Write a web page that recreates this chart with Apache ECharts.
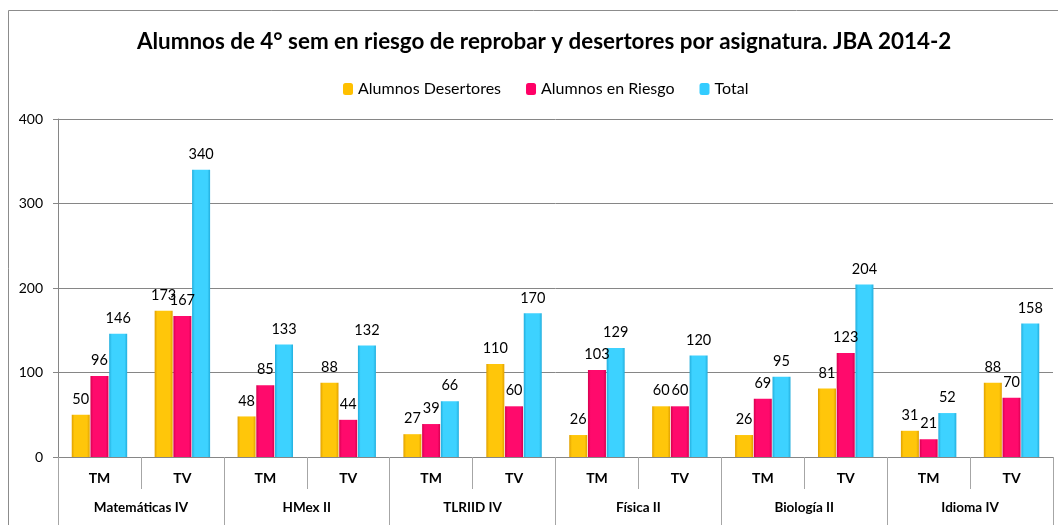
<!DOCTYPE html>
<html>
<head>
<meta charset="utf-8">
<script src="https://cdn.jsdelivr.net/npm/echarts@6/dist/echarts.min.js"></script>
<style>
  html, body { margin: 0; padding: 0; background: #fff; }
  #chart { width: 1058px; height: 525px; }
</style>
</head>
<body>
<div id="chart"></div>
<script>
// turnos por asignatura
const turnos = ['TM', 'TV', 'TM', 'TV', 'TM', 'TV', 'TM', 'TV', 'TM', 'TV', 'TM', 'TV'];
const asignaturas = ['Matemáticas IV', 'HMex II', 'TLRIID IV', 'Física II', 'Biología II', 'Idioma IV'];
const desertores = [50, 173, 48, 88, 27, 110, 26, 60, 26, 81, 31, 88];
const enRiesgo = [96, 167, 85, 44, 39, 60, 103, 60, 69, 123, 21, 70];
const total = [146, 340, 133, 132, 66, 170, 129, 120, 95, 204, 52, 158];
const yTicks = [0, 100, 200, 300, 400];

const font = 'Lato, "Open Sans", sans-serif';

function bevel(edge, mid) {
  return new echarts.graphic.LinearGradient(0, 0, 1, 0, [
    { offset: 0, color: edge },
    { offset: 0.15, color: mid },
    { offset: 0.85, color: mid },
    { offset: 1, color: edge }
  ]);
}

function serie(name, data, edge, mid) {
  return {
    name: name,
    type: 'bar',
    xAxisIndex: 0,
    data: data,
    barWidth: 18,
    barGap: '4%',
    itemStyle: { color: bevel(edge, mid) },
    label: {
      show: true,
      position: 'top',
      distance: 8,
      color: '#000',
      fontFamily: font,
      fontSize: 14.5
    }
  };
}

const chart = echarts.init(document.getElementById('chart'));
chart.setOption({
  animation: false,
  backgroundColor: '#fff',
  title: {
    text: 'Alumnos de 4° sem en riesgo de reprobar y desertores por asignatura. JBA 2014-2',
    left: 132,
    top: 26,
    textStyle: { fontFamily: font, fontSize: 22.4, fontWeight: 'bold', color: '#000' }
  },
  legend: {
    top: 76,
    left: 338,
    itemWidth: 10,
    itemHeight: 12,
    itemGap: 25,
    textStyle: { fontFamily: font, fontSize: 16, color: '#000' },
    data: [
      { name: 'Alumnos Desertores', itemStyle: { color: '#ffc000' } },
      { name: 'Alumnos en Riesgo', itemStyle: { color: '#ff0066' } },
      { name: 'Total', itemStyle: { color: '#33ccff' } }
    ]
  },
  graphic: [{
    type: 'rect',
    shape: { x: 8.5, y: 10.5, width: 1080, height: 600 },
    style: { fill: 'none', stroke: '#8c8c8c', lineWidth: 1 },
    silent: true
  }],
  grid: { left: 58, right: 5, top: 119, bottom: 68 },
  xAxis: [
    {
      type: 'category',
      data: turnos,
      axisLine: { lineStyle: { color: '#868686' } },
      axisTick: { show: true, interval: 0, length: 32, lineStyle: { color: '#a6a6a6' } },
      axisLabel: { interval: 0, margin: 14, fontFamily: font, fontSize: 14, fontWeight: 'bold', color: '#000' }
    },
    {
      type: 'category',
      position: 'bottom',
      data: asignaturas,
      axisLine: { show: false },
      axisTick: { show: true, interval: 0, length: 70, lineStyle: { color: '#a6a6a6' } },
      axisLabel: { interval: 0, margin: 44, fontFamily: font, fontSize: 13.5, fontWeight: 'bold', color: '#000' }
    }
  ],
  yAxis: {
    type: 'value',
    min: 0,
    max: yTicks[yTicks.length - 1],
    interval: yTicks[1] - yTicks[0],
    axisLine: { show: true, lineStyle: { color: '#868686' } },
    axisTick: { show: true, length: 5, lineStyle: { color: '#868686' } },
    axisLabel: { margin: 15, fontFamily: font, fontSize: 14, color: '#000' },
    splitLine: { lineStyle: { color: '#868686' } }
  },
  series: [
    serie('Alumnos Desertores', desertores, '#e0a000', '#ffc60a'),
    serie('Alumnos en Riesgo', enRiesgo, '#d6004f', '#ff0a6c'),
    serie('Total', total, '#22aedd', '#3dd2ff')
  ]
});
</script>
</body>
</html>
